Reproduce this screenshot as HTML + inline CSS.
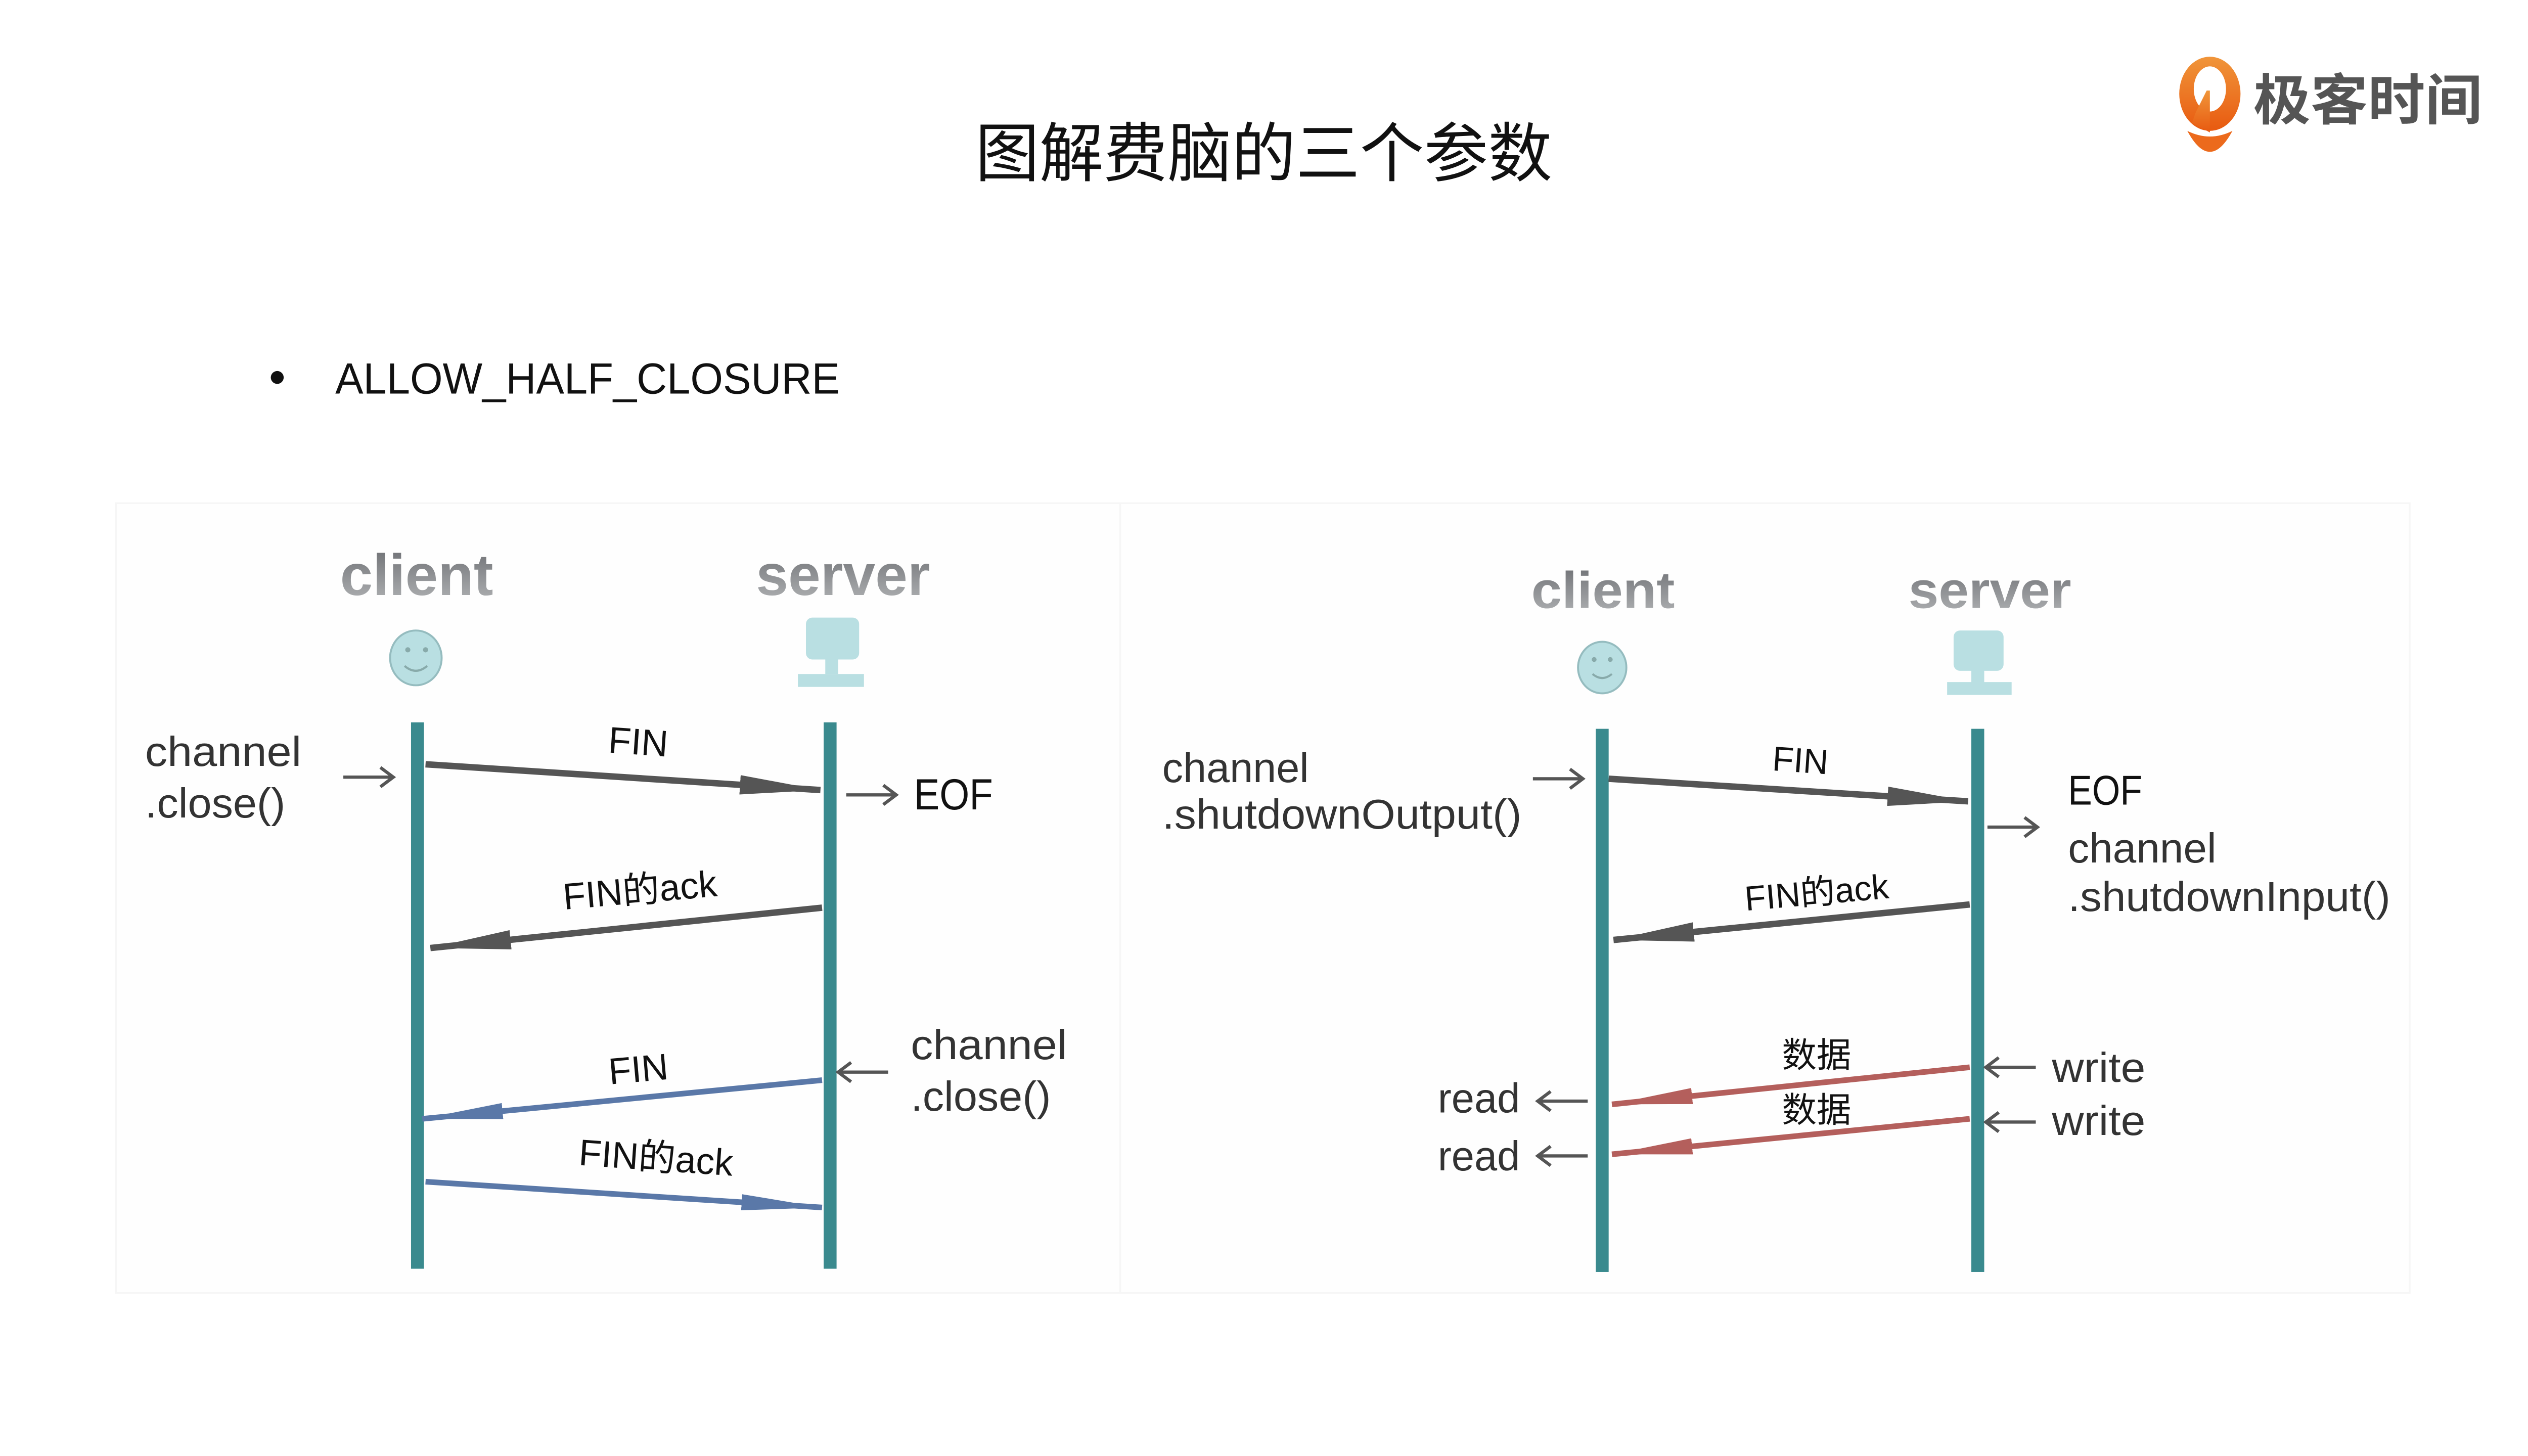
<!DOCTYPE html>
<html><head><meta charset="utf-8"><style>
html,body{margin:0;padding:0;background:#fff;width:5120px;height:2880px;overflow:hidden}
svg{display:block}
text{font-family:"Liberation Sans","Noto Sans CJK SC",sans-serif}
</style></head><body>
<svg width="5120" height="2880" viewBox="0 0 1606 903" xmlns="http://www.w3.org/2000/svg">
<defs>
<marker id="mg" markerUnits="userSpaceOnUse" markerWidth="60" markerHeight="20" refX="50" refY="10" orient="auto"><path d="M0,4 L50,10 L0,16 Z" fill="#555"/></marker>
<marker id="mb" markerUnits="userSpaceOnUse" markerWidth="60" markerHeight="20" refX="50" refY="10" orient="auto"><path d="M0,5 L50,10 L0,15 Z" fill="#5a78a8"/></marker>
<marker id="mr" markerUnits="userSpaceOnUse" markerWidth="60" markerHeight="20" refX="50" refY="10" orient="auto"><path d="M0,5 L50,10 L0,15 Z" fill="#b45f5c"/></marker>
<linearGradient id="tg" x1="0" y1="0" x2="0" y2="1"><stop offset="0" stop-color="#6a6c70"/><stop offset="1" stop-color="#b4b6b8"/></linearGradient>
<linearGradient id="og" x1="0" y1="0" x2="0" y2="1"><stop offset="0" stop-color="#f0953a"/><stop offset="1" stop-color="#e85a10"/></linearGradient>
<g id="ar"><path d="M0,0 H30 M23,-6 L31,0 L23,6" stroke="#555" stroke-width="2" fill="none"/></g>
<g id="al"><path d="M0,0 H-30 M-23,-6 L-31,0 L-23,6" stroke="#555" stroke-width="2" fill="none"/></g>
</defs>

<text x="605" y="109" font-size="40" fill="#111" textLength="358" lengthAdjust="spacingAndGlyphs">图解费脑的三个参数</text>
<ellipse cx="1371" cy="58" rx="19" ry="23" fill="url(#og)"/>
<ellipse cx="1371" cy="55" rx="10" ry="14" fill="#fff"/>
<path d="M1362,70 L1369,56 L1371,56 L1371,82 L1360,76 Z" fill="url(#og)"/>
<path d="M1357,81 Q1371,88 1385,81 Q1378,94 1371,94 Q1364,94 1357,81 Z" fill="#ec6a1c"/>
<text x="1398" y="74" font-size="34" fill="#555" font-weight="bold" textLength="142" lengthAdjust="spacingAndGlyphs">极客时间</text>

<circle cx="172" cy="234" r="4" fill="#111"/>
<text x="208" y="244" font-size="27" fill="#111" textLength="313" lengthAdjust="spacingAndGlyphs">ALLOW_HALF_CLOSURE</text>

<rect x="72" y="312" width="623" height="490" fill="#fefefe" stroke="#f6f6f6"/>
<rect x="695" y="312" width="800" height="490" fill="#fefefe" stroke="#f6f6f6"/>

<!-- LEFT -->
<text x="211" y="369" font-size="36" font-weight="bold" fill="url(#tg)" textLength="95" lengthAdjust="spacingAndGlyphs">client</text>
<text x="469" y="369" font-size="36" font-weight="bold" fill="url(#tg)" textLength="108" lengthAdjust="spacingAndGlyphs">server</text>
<ellipse cx="258" cy="408" rx="16" ry="17" fill="#b9dfe2" stroke="#95bcbf" stroke-width="1.2"/>
<circle cx="253" cy="403" r="1.6" fill="#8aa"/><circle cx="264" cy="403" r="1.6" fill="#8aa"/>
<path d="M251,413 Q258,419 265,413" stroke="#8aa" stroke-width="1.3" fill="none"/>
<rect x="500" y="383" width="33" height="26" rx="4" fill="#b9dfe2"/>
<rect x="512" y="408" width="8" height="10" fill="#b9dfe2"/>
<rect x="495" y="418" width="41" height="8" fill="#b9dfe2"/>

<rect x="255" y="448" width="8" height="339" fill="#3a8a8e"/>
<rect x="511" y="448" width="8" height="339" fill="#3a8a8e"/>

<line x1="264" y1="474" x2="509" y2="490" stroke="#555" stroke-width="4" marker-end="url(#mg)"/>
<line x1="510" y1="563" x2="267" y2="588" stroke="#555" stroke-width="4" marker-end="url(#mg)"/>
<line x1="510" y1="670" x2="262" y2="694" stroke="#5a78a8" stroke-width="3.5" marker-end="url(#mb)"/>
<line x1="264" y1="733" x2="510" y2="749" stroke="#5a78a8" stroke-width="3.5" marker-end="url(#mb)"/>

<text x="396" y="468" font-size="23" text-anchor="middle" fill="#111" transform="rotate(4 396 460)">FIN</text>
<text x="397" y="560" font-size="23" text-anchor="middle" fill="#111" transform="rotate(-5 397 552)">FIN的ack</text>
<text x="396" y="671" font-size="23" text-anchor="middle" fill="#111" transform="rotate(-5 396 663)">FIN</text>
<text x="407" y="726" font-size="23" text-anchor="middle" fill="#111" transform="rotate(4 407 718)">FIN的ack</text>

<text x="90" y="475" font-size="26" fill="#333" textLength="97" lengthAdjust="spacingAndGlyphs">channel</text>
<text x="90" y="507" font-size="26" fill="#333" textLength="87" lengthAdjust="spacingAndGlyphs">.close()</text>
<use href="#ar" x="213" y="482"/>
<use href="#ar" x="525" y="493"/>
<text x="567" y="502" font-size="27" fill="#111" textLength="49" lengthAdjust="spacingAndGlyphs">EOF</text>
<use href="#al" x="551" y="665"/>
<text x="565" y="657" font-size="26" fill="#333" textLength="97" lengthAdjust="spacingAndGlyphs">channel</text>
<text x="565" y="689" font-size="26" fill="#333" textLength="87" lengthAdjust="spacingAndGlyphs">.close()</text>

<!-- RIGHT -->
<text x="950" y="377" font-size="32" font-weight="bold" fill="url(#tg)" textLength="89" lengthAdjust="spacingAndGlyphs">client</text>
<text x="1184" y="377" font-size="32" font-weight="bold" fill="url(#tg)" textLength="101" lengthAdjust="spacingAndGlyphs">server</text>
<ellipse cx="994" cy="414" rx="15" ry="16" fill="#b9dfe2" stroke="#95bcbf" stroke-width="1.2"/>
<circle cx="989" cy="409" r="1.5" fill="#8aa"/><circle cx="999" cy="409" r="1.5" fill="#8aa"/>
<path d="M988,418 Q994,423 1000,418" stroke="#8aa" stroke-width="1.3" fill="none"/>
<rect x="1212" y="391" width="31" height="25" rx="4" fill="#b9dfe2"/>
<rect x="1223" y="415" width="8" height="9" fill="#b9dfe2"/>
<rect x="1208" y="423" width="40" height="8" fill="#b9dfe2"/>

<rect x="990" y="452" width="8" height="337" fill="#3a8a8e"/>
<rect x="1223" y="452" width="8" height="337" fill="#3a8a8e"/>

<line x1="998" y1="483" x2="1221" y2="497" stroke="#555" stroke-width="4" marker-end="url(#mg)"/>
<line x1="1222" y1="561" x2="1001" y2="583" stroke="#555" stroke-width="4" marker-end="url(#mg)"/>
<line x1="1222" y1="662" x2="1000" y2="685" stroke="#b45f5c" stroke-width="3.5" marker-end="url(#mr)"/>
<line x1="1222" y1="694" x2="1000" y2="716" stroke="#b45f5c" stroke-width="3.5" marker-end="url(#mr)"/>

<text x="1117" y="479" font-size="21.5" text-anchor="middle" fill="#111" transform="rotate(4 1117 471)">FIN</text>
<text x="1127" y="561" font-size="21.5" text-anchor="middle" fill="#111" transform="rotate(-5 1127 553)">FIN的ack</text>
<text x="1127" y="662" font-size="21.5" text-anchor="middle" fill="#111">数据</text>
<text x="1127" y="696" font-size="21.5" text-anchor="middle" fill="#111">数据</text>

<text x="721" y="485" font-size="26" fill="#333" textLength="91" lengthAdjust="spacingAndGlyphs">channel</text>
<text x="721" y="514" font-size="26" fill="#333" textLength="223" lengthAdjust="spacingAndGlyphs">.shutdownOutput()</text>
<use href="#ar" x="951" y="483"/>
<text x="1283" y="499" font-size="26" fill="#111" textLength="46" lengthAdjust="spacingAndGlyphs">EOF</text>
<use href="#ar" x="1233" y="513"/>
<text x="1283" y="535" font-size="26" fill="#333" textLength="92" lengthAdjust="spacingAndGlyphs">channel</text>
<text x="1283" y="565" font-size="26" fill="#333" textLength="200" lengthAdjust="spacingAndGlyphs">.shutdownInput()</text>
<text x="892" y="690" font-size="26" fill="#333" textLength="51" lengthAdjust="spacingAndGlyphs">read</text>
<text x="892" y="726" font-size="26" fill="#333" textLength="51" lengthAdjust="spacingAndGlyphs">read</text>
<use href="#al" x="985" y="683"/>
<use href="#al" x="985" y="717"/>
<use href="#al" x="1263" y="662"/>
<use href="#al" x="1263" y="696"/>
<text x="1273" y="671" font-size="26" fill="#333" textLength="58" lengthAdjust="spacingAndGlyphs">write</text>
<text x="1273" y="704" font-size="26" fill="#333" textLength="58" lengthAdjust="spacingAndGlyphs">write</text>
</svg>
</body></html>
